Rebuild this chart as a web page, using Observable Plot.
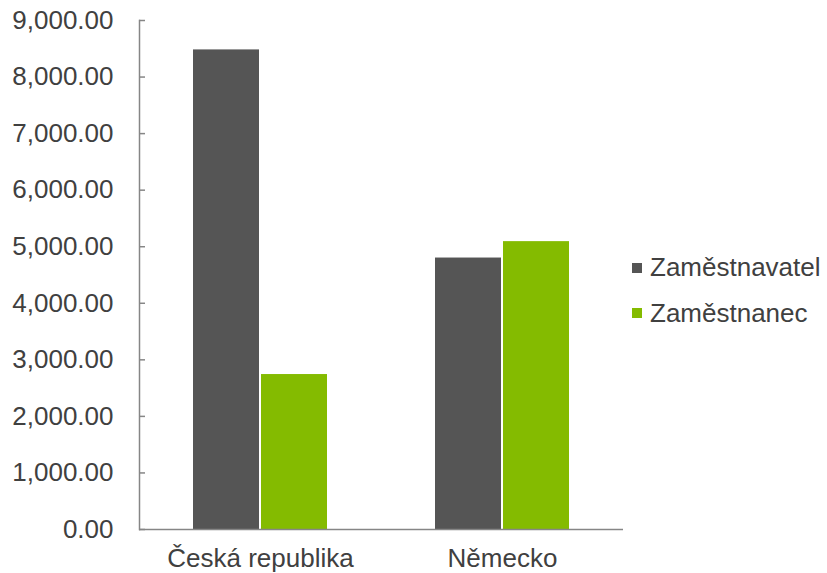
<!DOCTYPE html>
<html><head><meta charset="utf-8">
<script src="https://cdn.jsdelivr.net/npm/d3@7"></script>
<script src="https://cdn.jsdelivr.net/npm/@observablehq/plot@0.6"></script>
<style>
body{margin:0;background:#fff;font-family:"Liberation Sans",Arial,sans-serif}
#wrap{position:relative;width:827px;height:573px;overflow:hidden}
#legend{position:absolute;left:632px;top:245px}
.item{display:flex;align-items:center;height:45.5px;font-size:26px;color:#404040;white-space:nowrap}
.sw{width:10px;height:10px;margin-right:8px;flex:none}
</style></head><body><div id="wrap"></div>
<script>
const categories = ["Česká republika", "Německo"];
const series = ["Zaměstnavatel", "Zaměstnanec"];
const zamestnavatel = [8480, 4800];
const zamestnanec = [2740, 5090];
const yTicks = [0, 1000, 2000, 3000, 4000, 5000, 6000, 7000, 8000, 9000];
const colors = ["#555555", "#84bb00"];

const data = categories.flatMap((c, i) => [
  {category: c, series: series[0], value: zamestnavatel[i]},
  {category: c, series: series[1], value: zamestnanec[i]}
]);

const axisColor = "#868686";
const chart = Plot.plot({
  width: 827, height: 573,
  marginLeft: 139, marginRight: 204, marginTop: 20, marginBottom: 44,
  style: {fontFamily: '"Liberation Sans", Arial, sans-serif', fontSize: "26px", color: "#404040", background: "#fff"},
  fx: {domain: categories, padding: 0, label: null},
  x: {domain: series, paddingInner: 0, paddingOuter: 0.76, axis: null},
  y: {domain: [0, 9000], label: null},
  color: {domain: series, range: colors},
  marks: [
    Plot.barY(data, {fx: "category", x: "series", y: "value", fill: "series", insetLeft: 1, insetRight: 1}),
    Plot.axisY({ticks: yTicks, tickFormat: d3.format(",.2f"), tickSize: -6, tickPadding: 32, stroke: axisColor, fill: "#404040", strokeWidth: 1.5, label: null}),
    Plot.axisFx({anchor: "bottom", tickSize: 0, tickPadding: 19, fill: "#404040", label: null}),
    Plot.ruleY([0], {stroke: axisColor, strokeWidth: 1.5}),
    Plot.frame({anchor: "left", facetAnchor: "left", stroke: axisColor, strokeWidth: 1.5})
  ]
});
const wrap = document.getElementById("wrap");
wrap.appendChild(chart);
const legend = document.createElement("div");
legend.id = "legend";
series.forEach((s, i) => {
  const item = document.createElement("div");
  item.className = "item";
  const sw = document.createElement("span");
  sw.className = "sw";
  sw.style.background = colors[i];
  const t = document.createElement("span");
  t.textContent = s;
  item.appendChild(sw); item.appendChild(t);
  legend.appendChild(item);
});
wrap.appendChild(legend);
</script>
</body></html>
